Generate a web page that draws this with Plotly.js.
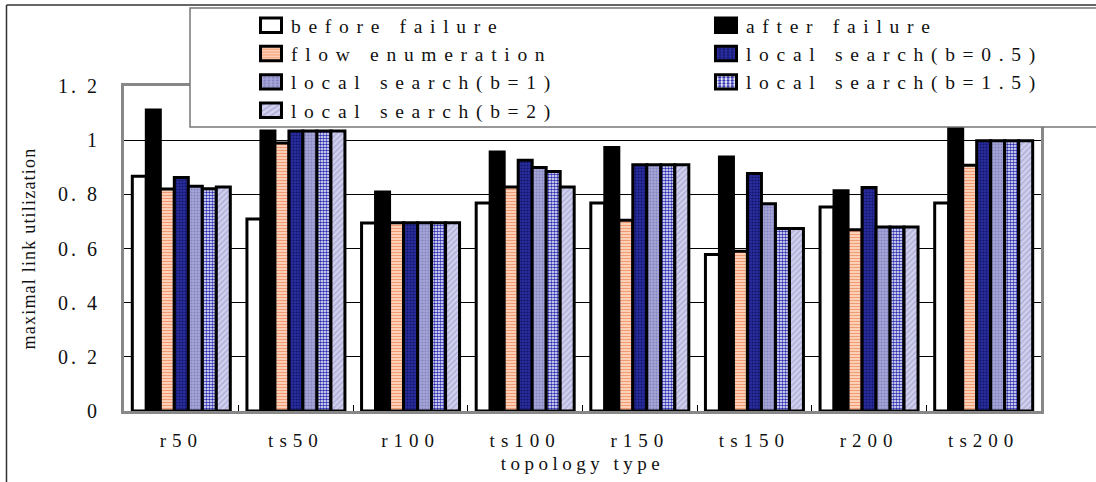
<!DOCTYPE html>
<html>
<head>
<meta charset="utf-8">
<script src="https://cdn.plot.ly/plotly-3.0.1.min.js"></script>
<style>
  html, body { margin: 0; padding: 0; background: #fff; }
  #chart { width: 1096px; height: 482px; }
  /* wide character pitch for the labels */
  .legendtext, .legend text, .legend2 text, g.groups text { letter-spacing: 7.7px; }
  .ytick text { letter-spacing: 3px; }
  .xtick text { letter-spacing: 6px; }
  .xtitle { letter-spacing: 4.5px; }
  .ytitle { letter-spacing: 1.2px; }
  /* spaced legend text runs past the measured legend width */
  .scrollbox { clip-path: none !important; }
  /* wider legend swatches with a heavy outline */
  .legendpoints path {
    transform: translate(20px, 0px) scale(1.75, 1.2);
    vector-effect: non-scaling-stroke;
    stroke-width: 3px !important;
  }
</style>
</head>
<body>
<div id="chart"></div>
<script>
// topology types on the x axis
const categories = ['r50', 'ts50', 'r100', 'ts100', 'r150', 'ts150', 'r200', 'ts200'];

// maximal link utilization per topology
const beforeFailure   = [0.867, 0.709, 0.694, 0.768, 0.768, 0.578, 0.753, 0.768];
const afterFailure    = [1.111, 1.034, 0.809, 0.956, 0.973, 0.938, 0.813, 1.120];
const flowEnumeration = [0.820, 0.990, 0.695, 0.827, 0.704, 0.590, 0.669, 0.907];
const localSearchB05  = [0.862, 1.034, 0.695, 0.926, 0.909, 0.877, 0.825, 0.998];
const localSearchB1   = [0.830, 1.034, 0.695, 0.899, 0.909, 0.765, 0.679, 0.998];
const localSearchB15  = [0.821, 1.034, 0.695, 0.884, 0.909, 0.674, 0.679, 0.998];
const localSearchB2   = [0.827, 1.034, 0.695, 0.827, 0.909, 0.674, 0.679, 0.998];

// y tick values and labels
const yTickVals = [0, 0.2, 0.4, 0.6, 0.8, 1, 1.2];
const yTickText = ['0', '0. 2', '0. 4', '0. 6', '0. 8', '1', '1. 2'];

const FONT = '"Liberation Serif", "DejaVu Serif", serif';
const outline = { color: '#000', width: 3 };

// legendId: left column ('legend') or right column ('legend2')
function bar(name, y, legendId, color, pattern) {
  const marker = { color: color, line: outline };
  if (pattern) marker.pattern = pattern;
  return { type: 'bar', name: name, x: categories, y: y, marker: marker, legend: legendId };
}

const traces = [
  bar('before failure', beforeFailure, 'legend', '#ffffff'),
  bar('after failure', afterFailure, 'legend2', '#000000'),
  bar('flow enumeration', flowEnumeration, 'legend', '#ffd3b8',
      { shape: '-', fgcolor: '#f39a72', bgcolor: '#ffdcc6', size: 3, solidity: 0.45 }),
  bar('local search(b=0.5)', localSearchB05, 'legend2', '#22248f',
      { shape: '.', fgcolor: '#121466', bgcolor: '#2a2ea0', size: 3, solidity: 0.4 }),
  bar('local search(b=1)', localSearchB1, 'legend', '#9a9ad0',
      { shape: '.', fgcolor: '#8484c2', bgcolor: '#a6a6d8', size: 3, solidity: 0.4 }),
  bar('local search(b=1.5)', localSearchB15, 'legend2', '#6a6ad0',
      { shape: '.', fgcolor: '#2a2cb0', bgcolor: '#ffffff', size: 3, solidity: 0.55 }),
  bar('local search(b=2)', localSearchB2, 'legend', '#c8c8e8',
      { shape: '/', fgcolor: '#b0b0da', bgcolor: '#d2d2ee', size: 4, solidity: 0.4 })
];

// plot area in pixels: left 124, right 1041, top 86, bottom 411
const L = 124, R = 55, T = 86, B = 71;
const W = 1096 - L - R, H = 482 - T - B;
const px = X => (X - L) / W;
const py = Y => (482 - B - Y) / H;

const legendFont = { family: FONT, size: 19.5, color: '#111' };
function legendColumn(leftPx) {
  return {
    orientation: 'v',
    x: px(leftPx), xanchor: 'left',
    y: py(6), yanchor: 'top',
    bgcolor: 'rgba(0,0,0,0)',
    borderwidth: 0,
    traceorder: 'normal',
    font: legendFont
  };
}

const layout = {
  width: 1096, height: 482,
  margin: { l: L, r: R, t: T, b: B, pad: 0, autoexpand: false },
  paper_bgcolor: '#ffffff',
  plot_bgcolor: '#ffffff',
  font: { family: FONT, size: 19, color: '#111' },
  barmode: 'group',
  bargap: 0.145,
  bargroupgap: 0,
  showlegend: true,
  legend: legendColumn(251),
  legend2: legendColumn(706),
  xaxis: {
    type: 'category',
    showline: true, mirror: true, linecolor: '#888', linewidth: 3,
    ticks: 'inside', tickson: 'boundaries', ticklen: 6, tickcolor: '#000', tickwidth: 1,
    ticklabelstandoff: 10,
    tickfont: { family: FONT, size: 19, color: '#111' },
    showgrid: false,
    title: { text: 'topology type', font: { family: FONT, size: 19, color: '#111' }, standoff: 7 },
    automargin: false
  },
  yaxis: {
    range: [0, 1.2],
    tickvals: yTickVals, ticktext: yTickText,
    showline: true, mirror: true, linecolor: '#888', linewidth: 3,
    ticks: '', ticklabelstandoff: 17,
    tickfont: { family: FONT, size: 20, color: '#111' },
    showgrid: true, gridcolor: '#000', gridwidth: 1,
    zeroline: false,
    title: { text: 'maximal link utilization', font: { family: FONT, size: 18, color: '#111' }, standoff: 18 },
    automargin: false
  },
  shapes: [
    // outer chart frame (left and top edges)
    { type: 'line', xref: 'paper', yref: 'paper', x0: px(6.5), x1: px(1100), y0: py(5), y1: py(5),
      line: { color: '#333', width: 1.5 } },
    { type: 'line', xref: 'paper', yref: 'paper', x0: px(6.5), x1: px(6.5), y0: py(5), y1: py(490),
      line: { color: '#333', width: 1.5 } },
    // legend box drawn over the plot
    { type: 'rect', xref: 'paper', yref: 'paper', layer: 'above',
      x0: px(190), x1: px(1110), y0: py(127), y1: py(8),
      fillcolor: '#ffffff', line: { color: '#777', width: 1.5 } }
  ]
};

Plotly.newPlot('chart', traces, layout, { displayModeBar: false, staticPlot: true });
</script>
</body>
</html>
